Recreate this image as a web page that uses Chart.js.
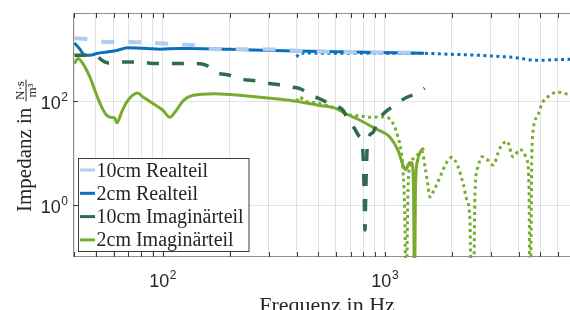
<!DOCTYPE html>
<html><head><meta charset="utf-8">
<script src="https://cdn.jsdelivr.net/npm/chart.js@4.4.1/dist/chart.umd.min.js"></script>
<style>html,body{margin:0;padding:0;background:#fff;overflow:hidden}#wrap{width:570px;height:310px;position:relative}</style>
</head><body><div id="wrap"><canvas id="c" width="570" height="310"></canvas></div>
<script>
// ---- data (Hz, N·s/m³) ----
const freqReal10 = [40, 46, 52, 62, 75, 90, 110, 125, 137, 160, 185, 250, 320, 400, 650, 900, 1500];
const valReal10  = [1630, 1560, 1420, 1380, 1370, 1330, 1270, 1230, 1200, 1030, 1000, 1000, 990, 940, 890, 870, 860];

const freqReal2 = [40, 42, 44.5, 47, 50.5, 56, 62, 69.5, 85, 97, 119, 137, 200, 400, 950, 1500];
const valReal2  = [1320, 1050, 780, 770, 830, 890, 950, 1070, 1040, 1000, 1040, 1040, 1000, 930, 870, 840];

const freqReal2Hf = [400, 415, 450, 600, 800, 1000, 1500, 2000, 2500, 3000, 3500, 4000, 4500, 5000, 5500, 6000, 6810];
const valReal2Hf  = [711, 840, 845, 840, 840, 838, 835, 800, 775, 745, 715, 680, 625, 614, 625, 635, 640];

const freqImag10 = [40, 45, 50, 53, 57, 68, 78, 90, 104, 137, 150, 160, 171, 200, 227, 265, 297, 344, 385, 414, 474, 500, 526, 583, 647, 681, 718, 760, 795, 805, 813, 820, 835, 883, 930, 1000, 1110, 1230, 1390, 1510];
const valImag10  = [770, 770, 765, 620, 545, 570, 570, 535, 531, 531, 520, 470, 370, 316, 265, 245, 222, 203, 186, 175, 125, 115, 104, 84, 67, 45, 33, 22, 11, 2.2, 0.33, 2, 16, 25, 43, 61, 84, 114, 142, 178];

const freqImag2 = [40, 41.5, 43.5, 46.9, 50, 53, 55.8, 58.9, 60.8, 62.1, 65.3, 68.8, 73, 77, 80.5, 88, 100, 107.6, 113.5, 124, 137, 171, 200, 247, 297, 373, 400, 500, 600, 660, 772, 900, 1053, 1144, 1205, 1240, 1290, 1320, 1345, 1358, 1372, 1400, 1440, 1500];
const valImag2  = [531, 662, 540, 293, 142, 77.7, 54, 48.6, 47, 38.3, 62.3, 97, 130, 144.5, 125, 97, 67, 49, 62, 104, 130, 140, 134.5, 125, 115.7, 104, 100, 84, 73, 58.7, 43, 30, 20.3, 11.4, 5.9, 4.8, 6.5, 6.5, 2, 0.01, 2, 7, 10.5, 12.5];

const freqImag2Hf = [400, 414, 430, 500, 600, 700, 772, 850, 1000, 1086, 1144, 1180, 1205, 1230, 1245, 1270, 1300, 1350, 1410, 1465, 1520, 1560, 1595, 1650, 1769, 1902, 2003, 2132, 2246, 2340, 2414, 2450, 2500, 2543, 2622, 2734, 2910, 3064, 3296, 3545, 3776, 4055, 4362, 4450, 4503, 4598, 4841, 5097, 5536, 5952, 6465, 6810];
const valImag2Hf  = [100, 122, 105, 91.5, 73, 54, 52, 49, 50, 37.8, 20.6, 11.4, 4.7, 0.5, 0.01, 2, 6, 8, 9.5, 11, 5, 2.5, 1.43, 1.8, 3.45, 6.8, 8.3, 5.5, 2.65, 1.25, 0.515, 0.01, 0.01, 1.7, 5.4, 8.5, 7.3, 5.9, 12.5, 17, 8.5, 11.8, 7.3, 2.5, 0.01, 15.6, 49.2, 91.5, 130, 151, 140, 136];

// axis ticks / labels
const xGridValues = [40, 50, 60, 70, 80, 90, 100, 200, 300, 400, 500, 600, 700, 800, 900, 1000, 2000, 3000, 4000, 5000, 6000];
const xTickValues = [100, 1000];
const xTickExps   = ['2', '3'];
const yTickValues = [1, 100];
const yTickExps   = ['0', '2'];
const legendLabels = ['10cm Realteil', '2cm Realteil', '10cm Imaginärteil', '2cm Imaginärteil'];

// ---- styling ----
const COL = { lightBlue: '#afcdee', blue: '#0b6fc0', darkGreen: '#2f6c4f', green: '#77ac30' };
const SERIF = '"Liberation Serif", "DejaVu Serif", serif';
const SANS = '"Liberation Sans", Arial, sans-serif';
const pts = (f, v) => f.map((x, i) => ({ x: x, y: v[i] }));

const datasets = [
  { label: legendLabels[0], data: pts(freqReal10, valReal10), borderColor: COL.lightBlue, borderWidth: 4, borderDash: [13, 14], order: 1 },
  { label: legendLabels[1], data: pts(freqReal2, valReal2), borderColor: COL.blue, borderWidth: 3, order: 5 },
  { label: legendLabels[2], data: pts(freqImag10, valImag10), borderColor: COL.darkGreen, borderWidth: 3.5, borderDash: [12, 13], order: 0 },
  { label: legendLabels[3], data: pts(freqImag2, valImag2), borderColor: COL.green, borderWidth: 3, order: 4 },
  { label: 'hf-real', data: pts(freqReal2Hf, valReal2Hf), borderColor: COL.blue, borderWidth: 3, borderDash: [3, 3.5], order: 3 },
  { label: 'hf-imag', data: pts(freqImag2Hf, valImag2Hf), borderColor: COL.green, borderWidth: 3, borderDash: [3, 3.5], order: 2 }
];
datasets.forEach(d => { d.pointRadius = 0; d.fill = false; d.cubicInterpolationMode = 'monotone'; d.borderCapStyle = 'butt'; d.clip = 1; });

function drawPow(ctx, base, exp, x, baseline, align) {
  ctx.font = '18px ' + SANS;
  const wb = ctx.measureText(base).width;
  ctx.font = '12px ' + SANS;
  const we = ctx.measureText(exp).width;
  const w = wb + we + 0.5;
  let x0 = align === 'right' ? x - w : x - w / 2;
  ctx.textAlign = 'left'; ctx.textBaseline = 'alphabetic';
  ctx.font = '18px ' + SANS;
  ctx.fillText(base, x0, baseline);
  ctx.font = '12px ' + SANS;
  ctx.fillText(exp, x0 + wb + 0.5, baseline - 8);
}

const matlabAxes = {
  id: 'matlabAxes',
  afterDatasetsDraw(chart) {
    const { ctx, chartArea: a, scales: { x, y } } = chart;
    ctx.save();
    // box
    ctx.strokeStyle = '#8f8f8f'; ctx.lineWidth = 1;
    ctx.beginPath();
    ctx.moveTo(a.right + 2, a.top + 0.5); ctx.lineTo(a.left + 0.5, a.top + 0.5);
    ctx.lineTo(a.left + 0.5, a.bottom - 0.5); ctx.lineTo(a.right + 2, a.bottom - 0.5);
    ctx.stroke();
    // inward ticks
    ctx.strokeStyle = '#3a3a3a';
    ctx.beginPath();
    xGridValues.forEach(v => {
      const px = Math.round(x.getPixelForValue(v)) + 0.5;
      ctx.moveTo(px, a.top); ctx.lineTo(px, a.top + 5);
      ctx.moveTo(px, a.bottom); ctx.lineTo(px, a.bottom - 5);
    });
    yTickValues.forEach(v => {
      const py = Math.round(y.getPixelForValue(v)) + 0.5;
      ctx.moveTo(a.left, py); ctx.lineTo(a.left + 5, py);
    });
    ctx.stroke();
    // tick labels
    ctx.fillStyle = '#262626';
    xTickValues.forEach((v, i) => drawPow(ctx, '10', xTickExps[i], x.getPixelForValue(v), a.bottom + 30, 'center'));
    yTickValues.forEach((v, i) => drawPow(ctx, '10', yTickExps[i], a.left - 5, y.getPixelForValue(v) + 8, 'right'));
    // x title
    ctx.font = '22px ' + SERIF; ctx.textAlign = 'center'; ctx.textBaseline = 'alphabetic';
    ctx.fillText('Frequenz in Hz', 327, 312);
    // y title (rotated) with fraction
    ctx.save();
    ctx.translate(31, 212); ctx.rotate(-Math.PI / 2);
    ctx.font = '21px ' + SERIF; ctx.textAlign = 'left';
    const t = 'Impedanz in ';
    ctx.fillText(t, 0, 0);
    const tw = ctx.measureText(t).width + 1;
    ctx.font = '13px ' + SERIF;
    const nw = ctx.measureText('N·s').width, dw = ctx.measureText('m³').width;
    const fw = Math.max(nw, dw) + 3;
    ctx.textAlign = 'center';
    ctx.fillText('N·s', tw + fw / 2, -7);
    ctx.fillText('m³', tw + fw / 2, 4.5);
    ctx.fillRect(tw, -5.5, fw, 1);
    ctx.restore();
    ctx.restore();
  },
  afterDraw(chart) {
    const ctx = chart.ctx;
    ctx.save();
    const bx = 78.5, by = 158.5, bw = 170.5, bh = 93;
    ctx.fillStyle = '#ffffff'; ctx.fillRect(bx, by, bw, bh);
    ctx.strokeStyle = '#3c3c3c'; ctx.lineWidth = 1; ctx.strokeRect(bx, by, bw, bh);
    ctx.font = '20px ' + SERIF; ctx.textAlign = 'left'; ctx.textBaseline = 'alphabetic';
    legendLabels.forEach((lab, i) => {
      const ds = chart.data.datasets[i];
      const cy = 170 + i * 23.3;
      ctx.strokeStyle = ds.borderColor; ctx.lineWidth = 3; ctx.setLineDash([]);
      ctx.beginPath(); ctx.moveTo(80, cy); ctx.lineTo(95, cy); ctx.stroke();
      ctx.fillStyle = '#262626';
      ctx.fillText(lab, 96.5, cy + 6.5);
    });
    ctx.restore();
  }
};

new Chart(document.getElementById('c'), {
  type: 'line',
  data: { datasets: datasets },
  options: {
    responsive: false, animation: false, devicePixelRatio: 1,
    layout: { padding: { top: 13, left: 0, right: 0, bottom: 0 } },
    plugins: { legend: { display: false }, tooltip: { enabled: false } },
    scales: {
      x: {
        type: 'logarithmic', min: 39.4, max: 6810,
        afterBuildTicks: s => { s.ticks = xGridValues.map(v => ({ value: v })); },
        afterFit: s => { s.height = 53; },
        ticks: { display: false },
        grid: { color: 'rgba(0,0,0,0.11)', drawTicks: false, lineWidth: 1 },
        border: { display: false }
      },
      y: {
        type: 'logarithmic', min: 0.1, max: 5000,
        afterBuildTicks: s => { s.ticks = yTickValues.map(v => ({ value: v })); },
        afterFit: s => { s.width = 73; },
        ticks: { display: false },
        grid: { color: 'rgba(0,0,0,0.11)', drawTicks: false, lineWidth: 1 },
        border: { display: false }
      }
    }
  },
  plugins: [matlabAxes]
});
</script></body></html>
